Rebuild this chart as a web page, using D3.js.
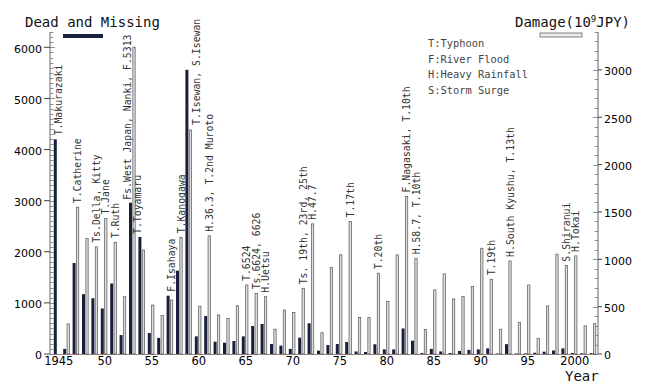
<!DOCTYPE html>
<html>
<head>
<meta charset="utf-8">
<script src="https://cdn.jsdelivr.net/npm/d3@7"></script>
<style>
  body { margin: 0; background: #fff; }
  svg { display: block; }
  .mono { font-family: "DejaVu Sans Mono", monospace; }
  .tick-label { font-family: "DejaVu Sans", Verdana, sans-serif; font-size: 11px; fill: #000; }
</style>
</head>
<body>
<div id="chart"></div>
<script>
// years on the x axis
const years = [1945, 1946, 1947, 1948, 1949, 1950, 1951, 1952, 1953, 1954,
  1955, 1956, 1957, 1958, 1959, 1960, 1961, 1962, 1963, 1964,
  1965, 1966, 1967, 1968, 1969, 1970, 1971, 1972, 1973, 1974,
  1975, 1976, 1977, 1978, 1979, 1980, 1981, 1982, 1983, 1984,
  1985, 1986, 1987, 1988, 1989, 1990, 1991, 1992, 1993, 1994,
  1995, 1996, 1997, 1998, 1999, 2000, 2001, 2002];

// dead and missing (persons), left axis
const deadMissing = [4200, 100, 1780, 1170, 1090, 890, 1380, 370, 2960, 2290,
  410, 315, 1140, 1630, 5560, 345, 743, 241, 222, 255,
  345, 548, 587, 196, 163, 100, 320, 600, 65, 176,
  195, 235, 50, 40, 190, 90, 90, 500, 260, 20,
  100, 50, 20, 60, 80, 90, 110, 10, 192, 10,
  12, 25, 45, 68, 110, 20, 15, 15];

// damage (10^9 JPY), right axis
const damage = [0, 318, 1550, 1222, 1132, 1430, 1180, 605, 3240, 1099,
  517, 405, 570, 1232, 2366, 505, 1248, 412, 377, 510,
  729, 641, 605, 262, 465, 437, 694, 1374, 225, 912,
  1047, 1399, 387, 387, 853, 556, 1047, 1663, 1010, 260,
  677, 846, 581, 606, 712, 1117, 789, 262, 983, 335,
  729, 166, 508, 1054, 933, 1036, 297, 320];

// disaster names written above the bars
const noteYears = [1945, 1947, 1949, 1950, 1951, 1953, 1954, 1957, 1958, 1959,
  1961, 1965, 1966, 1967, 1971, 1972, 1976, 1979, 1982, 1983,
  1991, 1993, 1999, 2000];
const noteTexts = ['T.Makurazaki', 'T.Catherine', 'Ts.Della, Kitty', 'T.Jane', 'T.Ruth',
  'Fs.West Japan, Nanki, F.5313', 'T.Toyamaru', 'F.Isahaya', 'T.Kanogawa', 'T.Isewan, S.Isewan',
  'H.36.3, T.2nd Muroto', 'T.6524', 'Ts.6624, 6626', 'H.Uetsu', 'Ts. 19th, 23rd, 25th',
  'H.47.7', 'T.17th', 'T.20th', 'F.Nagasaki, T.10th', 'H.58.7, T.10th',
  'T.19th', 'H.South Kyushu, T.13th', 'S.Shiranui', 'H.Tokai'];
// which bar the note sits on: 'top' = above both bars, 'dead' = above the dead bar, 'side' = beside the damage bar
const noteAnchor = ['top', 'top', 'top', 'top', 'top', 'dead', 'dead', 'top', 'top', 'side',
  'top', 'top', 'top', 'top', 'top', 'top', 'top', 'top', 'top', 'top',
  'top', 'top', 'top', 'top'];

const legendItems = ['T:Typhoon', 'F:River Flood', 'H:Heavy Rainfall', 'S:Storm Surge'];
const xTickYears = [1945, 1950, 1955, 1960, 1965, 1970, 1975, 1980, 1985, 1990, 1995, 2000];
const xTickText = ['1945', '50', '55', '60', '65', '70', '75', '80', '85', '90', '95', '2000'];

const W = 648, H = 383;
const plot = {left: 50, right: 598, top: 32, bottom: 354};
const barW = 3;
const darkColor = '#18203c';

const svg = d3.select('#chart').append('svg').attr('width', W).attr('height', H);

const x = d3.scaleBand().domain(years).range([53.8, 53.8 + years.length * 9.4]).padding(0);
const yL = d3.scaleLinear().domain([0, 6300]).range([plot.bottom, plot.top]);
const yR = d3.scaleLinear().domain([0, 3400]).range([plot.bottom, plot.top]);

// baseline
svg.append('line')
  .attr('x1', plot.left).attr('x2', plot.right)
  .attr('y1', plot.bottom + 0.5).attr('y2', plot.bottom + 0.5)
  .attr('stroke', '#9a7f7f').attr('stroke-width', 1);

// left axis: minor ticks every 100, labels every 1000
const gL = svg.append('g').attr('transform', `translate(${plot.left}, 0)`);
gL.append('line').attr('y1', plot.top).attr('y2', plot.bottom).attr('stroke', '#666');
gL.selectAll('line.minor').data(d3.range(0, 6301, 100)).enter().append('line')
  .attr('class', 'minor')
  .attr('x1', 0).attr('x2', d => d % 1000 === 0 ? 5 : 3.5)
  .attr('y1', d => Math.round(yL(d)) + 0.5).attr('y2', d => Math.round(yL(d)) + 0.5)
  .attr('stroke', '#777').attr('stroke-width', 0.8);
gL.selectAll('line.major').data(yL.ticks(7).filter(d => d <= 6000)).enter().append('line')
  .attr('class', 'major')
  .attr('x1', -6).attr('x2', 0)
  .attr('y1', d => yL(d)).attr('y2', d => yL(d))
  .attr('stroke', '#444');
gL.selectAll('text').data(yL.ticks(7).filter(d => d <= 6000)).enter().append('text')
  .attr('class', 'tick-label')
  .attr('x', -8).attr('y', d => yL(d) + 1.5).attr('dy', '0.35em')
  .attr('text-anchor', 'end')
  .text(d => d);

// right axis: minor ticks every 100, labels every 500
const gR = svg.append('g').attr('transform', `translate(${plot.right}, 0)`);
gR.append('line').attr('y1', plot.top).attr('y2', plot.bottom).attr('stroke', '#666');
gR.selectAll('line.minor').data(d3.range(0, 3401, 100)).enter().append('line')
  .attr('class', 'minor')
  .attr('x1', d => d % 500 === 0 ? -5 : -3.5).attr('x2', 0)
  .attr('y1', d => Math.round(yR(d)) + 0.5).attr('y2', d => Math.round(yR(d)) + 0.5)
  .attr('stroke', '#777').attr('stroke-width', 0.8);
gR.selectAll('line.major').data(d3.range(0, 3001, 500)).enter().append('line')
  .attr('class', 'major')
  .attr('x1', 0).attr('x2', 4)
  .attr('y1', d => yR(d)).attr('y2', d => yR(d))
  .attr('stroke', '#444');
gR.selectAll('text').data(d3.range(0, 3001, 500)).enter().append('text')
  .attr('class', 'tick-label')
  .attr('x', 6).attr('y', d => yR(d) + 1.5).attr('dy', '0.35em')
  .text(d => d);

// x tick labels
svg.append('g').selectAll('text').data(xTickYears).enter().append('text')
  .attr('class', 'tick-label')
  .style('font-size', '11.5px')
  .attr('x', (d, i) => x(d) + 4 + (i === 0 ? 1 : 0))
  .attr('y', plot.bottom + 11)
  .attr('text-anchor', 'middle')
  .text((d, i) => xTickText[i]);

// bars
const bars = svg.append('g');
bars.selectAll('rect.dead').data(years).enter().append('rect')
  .attr('class', 'dead')
  .attr('x', d => x(d))
  .attr('width', barW)
  .attr('y', (d, i) => yL(deadMissing[i]))
  .attr('height', (d, i) => plot.bottom - yL(deadMissing[i]))
  .attr('fill', darkColor);
bars.selectAll('rect.damage').data(years.filter((d, i) => damage[i] > 0)).enter().append('rect')
  .attr('class', 'damage')
  .attr('x', d => x(d) + 3.5 + 0.35)
  .attr('width', barW - 0.7)
  .attr('y', d => yR(damage[years.indexOf(d)]))
  .attr('height', d => plot.bottom - yR(damage[years.indexOf(d)]))
  .attr('fill', '#dcdcdc')
  .attr('stroke', '#555')
  .attr('stroke-width', 0.7);

// rotated notes
const notes = svg.append('g').attr('class', 'mono');
noteYears.forEach((yr, i) => {
  const k = years.indexOf(yr);
  const darkTop = yL(deadMissing[k]);
  const dmgTop = yR(damage[k]);
  let nx, ny;
  if (noteAnchor[i] === 'dead') {
    nx = x(yr) - 1; ny = darkTop - 3;
  } else if (noteAnchor[i] === 'side') {
    nx = x(yr) + 11; ny = dmgTop - 5;
  } else {
    nx = x(yr) + 5.2; ny = Math.min(darkTop, dmgTop) - 4;
  }
  notes.append('text')
    .attr('transform', `translate(${nx}, ${ny}) rotate(-90)`)
    .attr('dy', '0.35em')
    .attr('font-size', '9.8px')
    .attr('fill', '#333')
    .text(noteTexts[i]);
});

// titles and legend swatches
svg.append('text').attr('class', 'mono')
  .attr('x', 25).attr('y', 27)
  .attr('font-size', '14px').attr('fill', '#111')
  .text('Dead and Missing');
svg.append('rect')
  .attr('x', 63).attr('y', 34).attr('width', 40).attr('height', 4)
  .attr('fill', darkColor);

const dmgTitle = svg.append('text').attr('class', 'mono')
  .attr('x', 515).attr('y', 27)
  .attr('font-size', '14px').attr('fill', '#111');
dmgTitle.append('tspan').text('Damage(10');
dmgTitle.append('tspan').attr('font-size', '9px').attr('dy', '-5').text('9');
dmgTitle.append('tspan').attr('dy', '5').text('JPY)');
svg.append('rect')
  .attr('x', 540).attr('y', 33).attr('width', 42).attr('height', 4)
  .attr('fill', '#ececec').attr('stroke', '#666').attr('stroke-width', 0.8);

// disaster type key
svg.append('g').attr('class', 'mono').selectAll('text').data(legendItems).enter().append('text')
  .attr('x', 428)
  .attr('y', (d, i) => 47 + i * 15.6)
  .attr('font-size', '10.4px')
  .attr('fill', '#444')
  .text(d => d);

// x axis title
svg.append('text').attr('class', 'mono')
  .attr('x', 565).attr('y', 381)
  .attr('font-size', '14px').attr('fill', '#111')
  .text('Year');
</script>
</body>
</html>
